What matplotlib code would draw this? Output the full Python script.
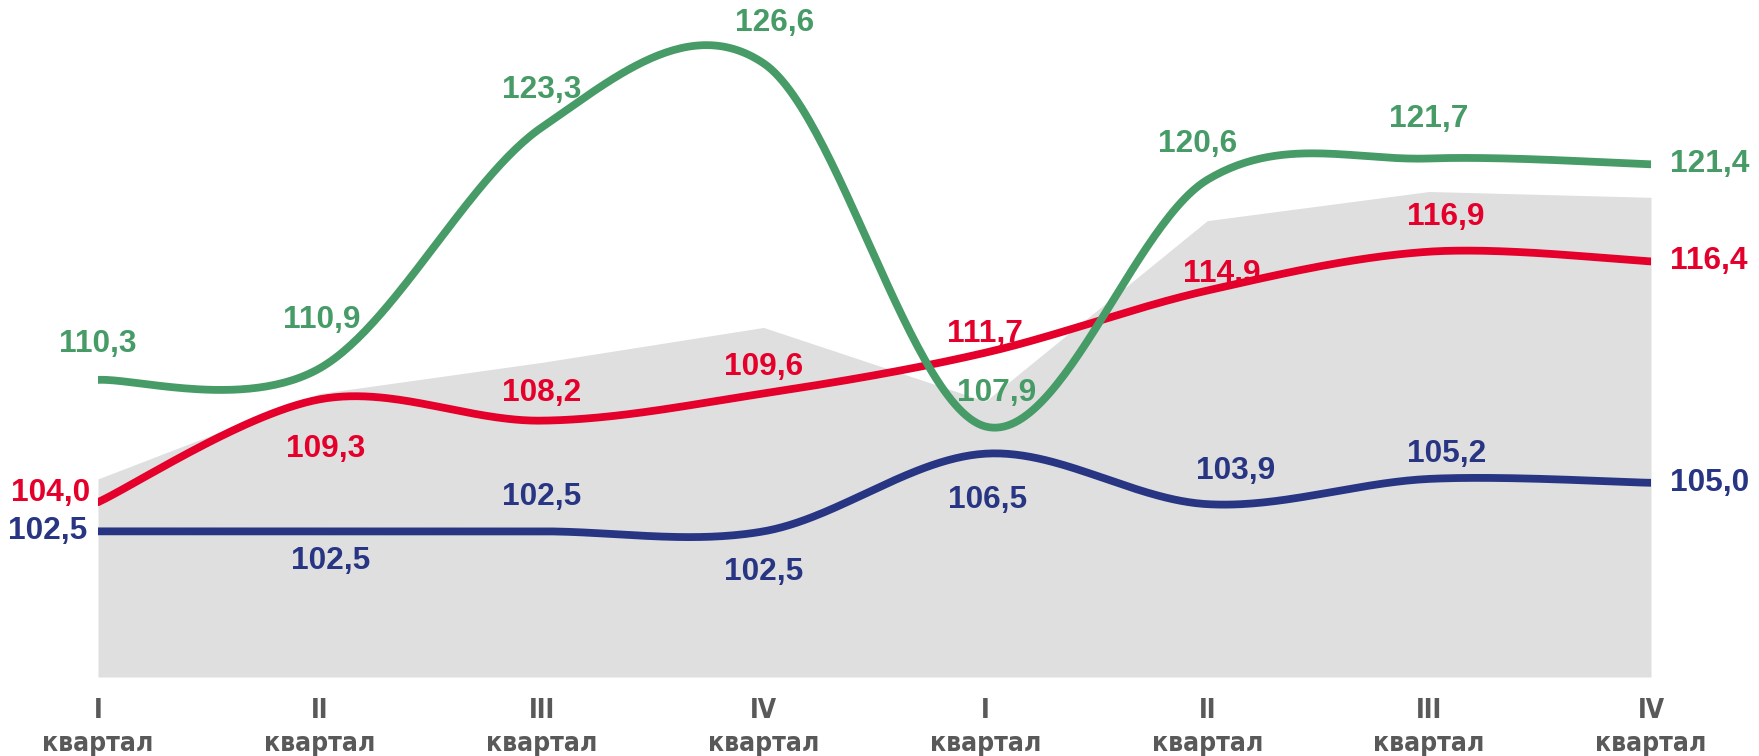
import numpy as np
import matplotlib
matplotlib.use('Agg')
from matplotlib import pyplot as plt

# quarters (two years, 8 points)
quarters = ['I\nквартал', 'II\nквартал', 'III\nквартал', 'IV\nквартал',
            'I\nквартал', 'II\nквартал', 'III\nквартал', 'IV\nквартал']

# series values
green_vals = [110.3, 110.9, 123.3, 126.6, 107.9, 120.6, 121.7, 121.4]
red_vals = [104.0, 109.3, 108.2, 109.6, 111.7, 114.9, 116.9, 116.4]
blue_vals = [102.5, 102.5, 102.5, 102.5, 106.5, 103.9, 105.2, 105.0]
# background area (no labels)
gray_vals = [105.2, 109.6, 111.2, 113.0, 109.2, 118.5, 120.0, 119.7]
area_base = 95.0

# label offsets in pixels (dx, dy)
green_off = [(0, 36), (2, 48), (0, 37), (11, 40), (11, 33), (-10, 36), (0, 39), (19, 0)]
red_off = [(-8, 9), (6, -50), (0, 28), (0, 26), (0, 19), (15, 17), (17, 35), (19, 0)]
blue_off = [(-11, 0), (11, -30), (0, 34), (0, -41), (2, -46), (28, 33), (17, 25), (19, 0)]

GREEN = '#479b67'
RED = '#e4002b'
BLUE = '#283583'
GRAY = '#dfdfdf'
TICK = '#595959'


def smooth(xs, ys, n=60):
    # catmull-rom as bezier, like spreadsheet "smoothed line"
    xs = np.asarray(xs, float)
    ys = np.asarray(ys, float)
    px = np.concatenate([[xs[0]], xs, [xs[-1]]])
    py = np.concatenate([[ys[0]], ys, [ys[-1]]])
    t = np.linspace(0, 1, n)[:, None]
    outx, outy = [], []
    for i in range(1, len(px) - 2):
        p0 = np.array([px[i], py[i]])
        p3 = np.array([px[i + 1], py[i + 1]])
        c1 = p0 + (np.array([px[i + 1], py[i + 1]]) - np.array([px[i - 1], py[i - 1]])) / 6
        c2 = p3 - (np.array([px[i + 2], py[i + 2]]) - np.array([px[i], py[i]])) / 6
        b = ((1 - t) ** 3) * p0 + 3 * ((1 - t) ** 2) * t * c1 + 3 * (1 - t) * t ** 2 * c2 + t ** 3 * p3
        outx.append(b[:, 0])
        outy.append(b[:, 1])
    return np.concatenate(outx), np.concatenate(outy)


def fmt(v):
    return ('%.1f' % v).replace('.', ',')


fig = plt.figure(figsize=(17.59, 7.56), dpi=100)
ax = fig.add_axes([98 / 1759, 79 / 756, 1553 / 1759, 677 / 756])
x = np.arange(len(quarters))

ax.fill_between(x, area_base, gray_vals, color=GRAY, lw=0, zorder=1)

for vals, col, offs in [(blue_vals, BLUE, blue_off), (red_vals, RED, red_off), (green_vals, GREEN, green_off)]:
    sx, sy = smooth(x, vals)
    ax.plot(sx, sy, color=col, lw=5.6, solid_capstyle='round', zorder=3)
    for i, v in enumerate(vals):
        dx, dy = offs[i]
        if i == len(vals) - 1:
            ha = 'left'
        elif i == 0 and dx < 0:
            ha = 'right'
        else:
            ha = 'center'
        ax.annotate(fmt(v), (x[i], v), xytext=(dx, dy), textcoords='offset pixels',
                    ha=ha, va='center', color=col, fontsize=22.8, fontweight='bold',
                    family=['Liberation Sans', 'DejaVu Sans'], zorder=5, annotation_clip=False)

ax.set_xlim(0, 7)
ax.set_ylim(area_base, 129.86)
ax.set_xticks(x)
ax.set_xticklabels(quarters, color=TICK, fontsize=19, fontweight='bold',
                   family='DejaVu Sans', fontstretch='condensed', linespacing=1.35)
ax.tick_params(axis='x', length=0, pad=15)
ax.set_yticks([])
for s in ax.spines.values():
    s.set_visible(False)
ax.patch.set_alpha(0)

fig.savefig('out.png', dpi=100)
